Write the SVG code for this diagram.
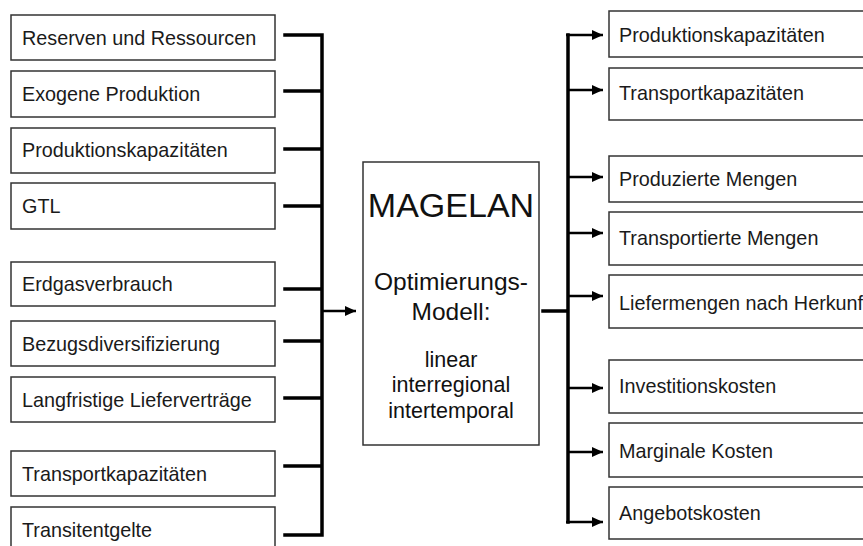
<svg xmlns="http://www.w3.org/2000/svg" width="863" height="546" viewBox="0 0 863 546">
<style>
.box{fill:#fff;stroke:#333;stroke-width:1.5}
.t{font-family:"Liberation Sans",Arial,sans-serif;font-size:19.8px;fill:#1a1a1a}
.c{font-family:"Liberation Sans",Arial,sans-serif;fill:#111;text-anchor:middle}
.bus{stroke:#000;stroke-width:3.5;fill:none;stroke-linecap:square}
.arr{stroke:#000;stroke-width:2.5;fill:none}
</style>
<defs>
<marker id="ah" markerUnits="userSpaceOnUse" markerWidth="12" markerHeight="10" refX="11" refY="5" orient="auto">
<path d="M0,0 L11,5 L0,10 Z" fill="#000"/>
</marker>
</defs>
<rect width="863" height="546" fill="#fff"/>
<g id="in1"><rect class="box" x="11" y="15" width="264" height="45"/><text class="t" x="22" y="45">Reserven und Ressourcen</text></g>
<g id="in2"><rect class="box" x="11" y="71" width="264" height="46"/><text class="t" x="22" y="101">Exogene Produktion</text></g>
<g id="in3"><rect class="box" x="11" y="128" width="264" height="45"/><text class="t" x="22" y="157">Produktionskapazitäten</text></g>
<g id="in4"><rect class="box" x="11" y="183" width="264" height="46"/><text class="t" x="22" y="213">GTL</text></g>
<g id="in5"><rect class="box" x="11" y="262" width="264" height="44"/><text class="t" x="22" y="291">Erdgasverbrauch</text></g>
<g id="in6"><rect class="box" x="11" y="321" width="264" height="45"/><text class="t" x="22" y="351">Bezugsdiversifizierung</text></g>
<g id="in7"><rect class="box" x="11" y="377" width="264" height="45"/><text class="t" x="22" y="407">Langfristige Lieferverträge</text></g>
<g id="in8"><rect class="box" x="11" y="451" width="264" height="45"/><text class="t" x="22" y="481">Transportkapazitäten</text></g>
<g id="in9"><rect class="box" x="11" y="507" width="264" height="50"/><text class="t" x="22" y="537">Transitentgelte</text></g>
<g id="model">
<rect class="box" x="363" y="162" width="176" height="283"/>
<text class="c" x="451" y="217" font-size="34">MAGELAN</text>
<text class="c" x="451" y="290" font-size="24.5">Optimierungs-</text>
<text class="c" x="451" y="320" font-size="24.5">Modell:</text>
<text class="c" x="451" y="367" font-size="21.5">linear</text>
<text class="c" x="451" y="392" font-size="21.5">interregional</text>
<text class="c" x="451" y="418" font-size="21.5">intertemporal</text>
</g>
<g id="out1"><rect class="box" x="609" y="11" width="262" height="46"/><text class="t" x="619" y="42">Produktionskapazitäten</text></g>
<g id="out2"><rect class="box" x="609" y="68" width="262" height="52"/><text class="t" x="619" y="100">Transportkapazitäten</text></g>
<g id="out3"><rect class="box" x="609" y="156" width="262" height="46"/><text class="t" x="619" y="186">Produzierte Mengen</text></g>
<g id="out4"><rect class="box" x="609" y="212" width="262" height="53"/><text class="t" x="619" y="245">Transportierte Mengen</text></g>
<g id="out5"><rect class="box" x="609" y="275" width="262" height="53"/><text class="t" x="619" y="310">Liefermengen nach Herkunft</text></g>
<g id="out6"><rect class="box" x="609" y="360" width="262" height="53"/><text class="t" x="619" y="393">Investitionskosten</text></g>
<g id="out7"><rect class="box" x="609" y="423" width="262" height="54"/><text class="t" x="619" y="458">Marginale Kosten</text></g>
<g id="out8"><rect class="box" x="609" y="487" width="262" height="52"/><text class="t" x="619" y="520">Angebotskosten</text></g>
<g id="connectors">
<path class="bus" d="M285,35 H322 V535 H285 M285,91 H322 M285,149 H322 M285,206 H322 M285,289 H322 M285,341 H322 M285,398 H322 M285,466 H322"/>
<line class="arr" x1="322" y1="311" x2="356" y2="311" marker-end="url(#ah)"/>
<path class="bus" d="M543,311 H568 M568,35 V522"/>
<line class="arr" x1="566" y1="35" x2="603" y2="35" marker-end="url(#ah)"/>
<line class="arr" x1="568" y1="90" x2="603" y2="90" marker-end="url(#ah)"/>
<line class="arr" x1="568" y1="177" x2="603" y2="177" marker-end="url(#ah)"/>
<line class="arr" x1="568" y1="233" x2="603" y2="233" marker-end="url(#ah)"/>
<line class="arr" x1="568" y1="296" x2="603" y2="296" marker-end="url(#ah)"/>
<line class="arr" x1="568" y1="388" x2="603" y2="388" marker-end="url(#ah)"/>
<line class="arr" x1="568" y1="452" x2="603" y2="452" marker-end="url(#ah)"/>
<line class="arr" x1="566" y1="522" x2="603" y2="522" marker-end="url(#ah)"/>
</g>
</svg>
